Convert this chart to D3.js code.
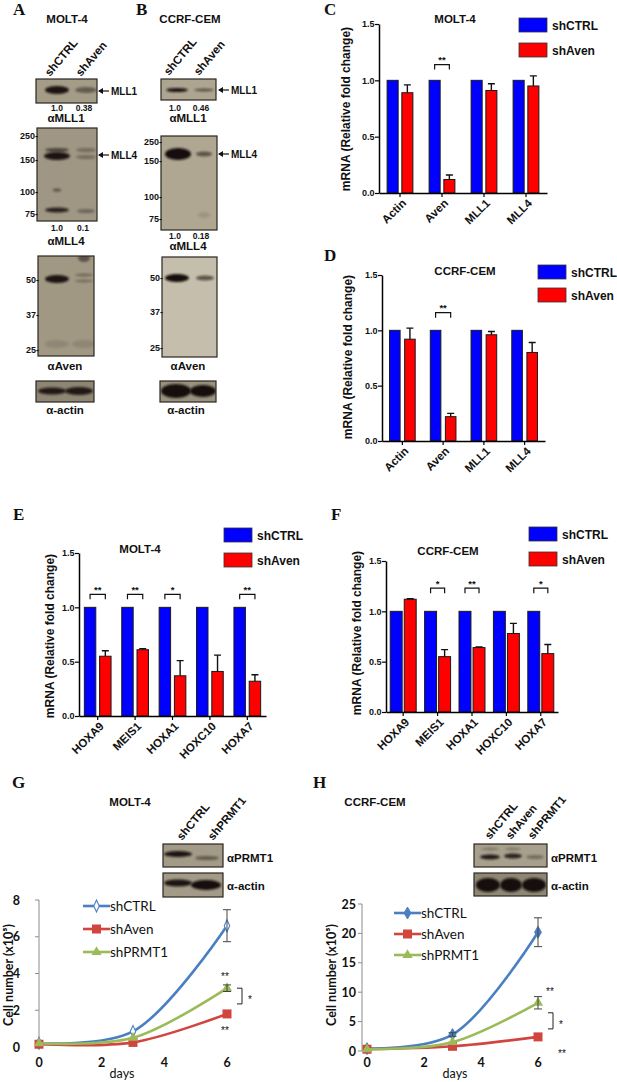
<!DOCTYPE html>
<html>
<head>
<meta charset="utf-8">
<script src="https://cdn.jsdelivr.net/npm/d3@7"></script>
<style>
  body { margin: 0; background: #fff; }
  svg { display: block; }
  text { font-family: "Liberation Sans", Arial, sans-serif; fill: #111; }
</style>
</head>
<body>
<div id="fig"></div>
<script>
// ---- qPCR data (panels C-F) ----
const geneCats = ["Actin", "Aven", "MLL1", "MLL4"];
const molt4Ctrl = [1, 1, 1, 1];
const molt4Aven = [0.89, 0.12, 0.91, 0.95];
const molt4AvenErr = [0.07, 0.04, 0.06, 0.09];
const molt4Sig = ["", "**", "", ""];

const cemCtrl = [1, 1, 1, 1];
const cemAven = [0.92, 0.22, 0.96, 0.80];
const cemAvenErr = [0.10, 0.03, 0.03, 0.09];
const cemSig = ["", "**", "", ""];

const hoxCats = ["HOXA9", "MEIS1", "HOXA1", "HOXC10", "HOXA7"];
const molt4HoxCtrl = [1, 1, 1, 1, 1];
const molt4HoxAven = [0.55, 0.61, 0.37, 0.41, 0.32];
const molt4HoxErr = [0.05, 0.01, 0.14, 0.15, 0.06];
const molt4HoxSig = ["**", "**", "*", "", "**"];

const cemHoxCtrl = [1, 1, 1, 1, 1];
const cemHoxAven = [1.12, 0.55, 0.64, 0.78, 0.58];
const cemHoxErr = [0.005, 0.07, 0.005, 0.10, 0.09];
const cemHoxSig = ["", "*", "**", "", "*"];

const barTicks = [0, 0.5, 1.0, 1.5];

// ---- growth curves (panels G-H) ----
const days = [0, 3, 6];
const dayTicks = [0, 2, 4, 6];
const molt4ShCtrl = [0.2, 0.85, 6.6];
const molt4ShCtrlErr = [0, 0.05, 0.87];
const molt4ShAven = [0.15, 0.25, 1.8];
const molt4ShAvenErr = [0, 0, 0];
const molt4ShPrmt1 = [0.2, 0.5, 3.2];
const molt4ShPrmt1Err = [0, 0, 0.18];
const molt4CellTicks = [0, 2, 4, 6, 8];

const cemShCtrl = [0.4, 2.8, 20.2];
const cemShCtrlErr = [0, 0.3, 2.45];
const cemShAven = [0.3, 0.8, 2.4];
const cemShAvenErr = [0, 0, 0];
const cemShPrmt1 = [0.3, 1.5, 8.2];
const cemShPrmt1Err = [0, 0, 1.05];
const cemCellTicks = [0, 5, 10, 15, 20, 25];

// ---- western blot quantification / ladders ----
const mll1QuantA = ["1.0", "0.38"];
const mll4QuantA = ["1.0", "0.1"];
const mll1QuantB = ["1.0", "0.46"];
const mll4QuantB = ["1.0", "0.18"];
const ladderHigh = [250, 150, 100, 75];
const ladderLow = [50, 37, 25];

const W = 617, H = 1082;
const svg = d3.select("#fig").append("svg").attr("width", W).attr("height", H);
const defs = svg.append("defs");
defs.append("filter").attr("id", "blur")
    .attr("x", "-50%").attr("y", "-100%").attr("width", "200%").attr("height", "300%")
    .append("feGaussianBlur").attr("stdDeviation", 1.3);

const serif = "'Liberation Serif', 'Times New Roman', serif";
const lato = "Lato, 'Open Sans', sans-serif";

function panelLetter(t, x, y) {
    svg.append("text").attr("x", x).attr("y", y).text(t)
        .style("font-family", serif).style("font-weight", "bold").style("font-size", "17px");
}
function boldText(t, x, y, size, anchor) {
    return svg.append("text").attr("x", x).attr("y", y).text(t)
        .attr("text-anchor", anchor || "middle")
        .style("font-weight", "bold").style("font-size", size + "px");
}

// ---------- blots ----------
let clipId = 0;
function drawBlot(b) {
    const id = "clip" + (clipId++);
    defs.append("clipPath").attr("id", id)
        .append("rect").attr("x", b.x).attr("y", b.y).attr("width", b.w).attr("height", b.h);
    const g = svg.append("g");
    g.append("rect").attr("x", b.x).attr("y", b.y).attr("width", b.w).attr("height", b.h)
        .attr("fill", b.bg);
    g.append("g").attr("clip-path", `url(#${id})`)
        .selectAll("ellipse").data(b.bands).enter().append("ellipse")
        .attr("cx", d => b.x + b.lanes[d.l])
        .attr("cy", d => b.y + d.dy)
        .attr("rx", d => d.rx).attr("ry", d => d.ry)
        .attr("fill", "#15110c").attr("opacity", d => d.a)
        .attr("filter", "url(#blur)");
    g.append("rect").attr("x", b.x).attr("y", b.y).attr("width", b.w).attr("height", b.h)
        .attr("fill", "none").attr("stroke", "#2a2620").attr("stroke-width", 1.2);
}
function ladder(values, scale, x) {
    svg.append("g").selectAll("text").data(values).enter().append("text")
        .attr("x", x).attr("y", d => scale(d) + 3.5)
        .attr("text-anchor", "end")
        .style("font-weight", "bold").style("font-size", "9px")
        .text(d => d + "-");
}
function arrowLabel(t, x, y) {
    svg.append("path").attr("d", `M${x + 11},${y} H${x + 1}`).attr("stroke", "#111").attr("stroke-width", 1.2);
    svg.append("path").attr("d", `M${x},${y} l5,-3 v6 z`).attr("fill", "#111");
    boldText(t, x + 13, y + 3.5, 10, "start");
}
function laneLabels(names, xs, y, size) {
    names.forEach((n, i) => {
        svg.append("text").attr("transform", `translate(${xs[i]},${y}) rotate(-50)`)
            .style("font-weight", "bold").style("font-size", size + "px").text(n);
    });
}
function quant(vals, xs, y) {
    vals.forEach((v, i) => boldText(v, xs[i], y, 8.5));
}

// Panel A
panelLetter("A", 13, 15);
boldText("MOLT-4", 67, 23, 11.5);
laneLabels(["shCTRL", "shAven"], [50, 81], 77, 11.5);
drawBlot({ x: 36, y: 79, w: 61, h: 24, bg: "#a59c88", lanes: [21, 50],
    bands: [{ l: 0, dy: 11, rx: 12, ry: 4, a: 0.95 }, { l: 1, dy: 11, rx: 11, ry: 3, a: 0.45 }] });
arrowLabel("MLL1", 98, 91);
quant(mll1QuantA, [57, 84], 111);
boldText("\u03b1MLL1", 66, 122, 11.5);
drawBlot({ x: 37, y: 128, w: 60, h: 93, bg: "#9f9683", lanes: [20, 49],
    bands: [{ l: 0, dy: 22, rx: 12, ry: 2, a: 0.6 }, { l: 0, dy: 28, rx: 13, ry: 4, a: 0.95 },
            { l: 0, dy: 62, rx: 4, ry: 1.5, a: 0.5 }, { l: 0, dy: 82, rx: 12, ry: 2.5, a: 0.85 },
            { l: 1, dy: 22, rx: 10, ry: 2, a: 0.3 }, { l: 1, dy: 29, rx: 10, ry: 2, a: 0.3 },
            { l: 1, dy: 83, rx: 9, ry: 2, a: 0.35 }] });
ladder(ladderHigh, d3.scaleLinear().domain(ladderHigh).range([135, 159, 191, 213]), 38);
arrowLabel("MLL4", 98, 155);
quant(mll4QuantA, [57, 83], 231);
boldText("\u03b1MLL4", 66, 245, 11.5);
drawBlot({ x: 38, y: 256, w: 56, h: 100, bg: "#a19884", lanes: [19, 46],
    bands: [{ l: 0, dy: 23, rx: 12, ry: 4, a: 0.95 }, { l: 1, dy: 19, rx: 9, ry: 1.5, a: 0.35 },
            { l: 1, dy: 25, rx: 9, ry: 1.5, a: 0.3 }, { l: 0, dy: 88, rx: 12, ry: 4, a: 0.12 },
            { l: 1, dy: 88, rx: 12, ry: 4, a: 0.12 }, { l: 1, dy: 2, rx: 6, ry: 4, a: 0.5 }] });
ladder(ladderLow, d3.scaleLinear().domain(ladderLow).range([279, 314, 349]), 39);
boldText("\u03b1Aven", 65, 370, 11.5);
drawBlot({ x: 36, y: 381, w: 58, h: 21, bg: "#8e8673", lanes: [16, 43],
    bands: [{ l: 0, dy: 10, rx: 14, ry: 3.5, a: 0.9 }, { l: 1, dy: 10, rx: 14, ry: 4, a: 0.9 }] });
boldText("\u03b1-actin", 65, 414, 11.5);

// Panel B
panelLetter("B", 136, 15);
boldText("CCRF-CEM", 190, 23, 11.5);
laneLabels(["shCTRL", "shAven"], [169, 199], 76, 11.5);
drawBlot({ x: 161, y: 79, w: 55, h: 21, bg: "#aea590", lanes: [16, 43],
    bands: [{ l: 0, dy: 11, rx: 11, ry: 2, a: 0.95 }, { l: 1, dy: 11, rx: 10, ry: 1.5, a: 0.55 }] });
arrowLabel("MLL1", 218, 90);
quant(mll1QuantB, [175, 201], 111);
boldText("\u03b1MLL1", 188, 122, 11.5);
drawBlot({ x: 161, y: 136, w: 56, h: 94, bg: "#b0a792", lanes: [17, 43],
    bands: [{ l: 0, dy: 18, rx: 13, ry: 6, a: 1 }, { l: 1, dy: 18, rx: 8, ry: 2.5, a: 0.55 },
            { l: 1, dy: 79, rx: 6, ry: 3, a: 0.12 }] });
ladder(ladderHigh, d3.scaleLinear().domain(ladderHigh).range([141, 160, 196, 218]), 162);
arrowLabel("MLL4", 218, 154);
quant(mll4QuantB, [175, 201], 239);
boldText("\u03b1MLL4", 188, 250, 11.5);
drawBlot({ x: 162, y: 257, w: 55, h: 100, bg: "#c6beac", lanes: [15, 43],
    bands: [{ l: 0, dy: 21, rx: 12, ry: 4, a: 1 }, { l: 1, dy: 21, rx: 9, ry: 2.5, a: 0.6 }] });
ladder(ladderLow, d3.scaleLinear().domain(ladderLow).range([277, 311, 347]), 163);
boldText("\u03b1Aven", 188, 370, 11.5);
drawBlot({ x: 160, y: 381, w: 56, h: 21, bg: "#9a927f", lanes: [16, 43],
    bands: [{ l: 0, dy: 10, rx: 15, ry: 7, a: 1 }, { l: 1, dy: 10, rx: 13, ry: 6, a: 1 }] });
boldText("\u03b1-actin", 186, 414, 11.5);

// ---------- bar panels ----------
function drawBarPanel(c) {
    const y = d3.scaleLinear().domain([0, 1.5]).range([c.y0, c.y15]);
    const x = d3.scaleBand().domain(c.cats).range([c.ax, c.axEnd]);
    const xs = d3.scaleBand().domain(["ctrl", "aven"]).range([0, x.bandwidth()])
        .paddingInner(c.pi).paddingOuter(c.po);
    const g = svg.append("g");

    const rows = c.cats.map((k, i) => ({ k, ctrl: c.ctrl[i], aven: c.aven[i], err: c.err[i], sig: c.sig[i] }));

    g.selectAll(".bc").data(rows).enter().append("rect")
        .attr("x", d => x(d.k) + xs("ctrl")).attr("width", xs.bandwidth())
        .attr("y", d => y(d.ctrl)).attr("height", d => y(0) - y(d.ctrl))
        .attr("fill", "#0000ff").attr("stroke", "#1a1a1a").attr("stroke-width", 1);
    g.selectAll(".ba").data(rows).enter().append("rect")
        .attr("x", d => x(d.k) + xs("aven")).attr("width", xs.bandwidth())
        .attr("y", d => y(d.aven)).attr("height", d => y(0) - y(d.aven))
        .attr("fill", "#ff0000").attr("stroke", "#1a1a1a").attr("stroke-width", 1);

    // one-sided error bars
    const ecx = d => x(d.k) + xs("aven") + xs.bandwidth() / 2;
    g.selectAll(".ev").data(rows).enter().append("path")
        .attr("d", d => `M${ecx(d)},${y(d.aven)} V${y(d.aven + d.err)} M${ecx(d) - 3.5},${y(d.aven + d.err)} H${ecx(d) + 3.5}`)
        .attr("stroke", "#111").attr("stroke-width", 1.4).attr("fill", "none");

    // significance brackets
    const sigRows = rows.filter(d => d.sig);
    const bx0 = d => x(d.k) + xs("ctrl") + xs.bandwidth() / 2;
    g.selectAll(".sb").data(sigRows).enter().append("path")
        .attr("d", d => `M${bx0(d)},${y(c.bracket) + 5} V${y(c.bracket)} H${ecx(d)} V${y(c.bracket) + 5}`)
        .attr("stroke", "#111").attr("stroke-width", 1.2).attr("fill", "none");
    g.selectAll(".st").data(sigRows).enter().append("text")
        .attr("x", d => (bx0(d) + ecx(d)) / 2).attr("y", y(c.bracket) - 1.5)
        .attr("text-anchor", "middle").style("font-weight", "bold").style("font-size", "9.5px")
        .text(d => d.sig);

    // axes
    const ya = g.append("g").attr("transform", `translate(${c.ax},0)`)
        .call(d3.axisLeft(y).tickValues(barTicks).tickFormat(d3.format(".1f")).tickSize(4).tickSizeOuter(0));
    ya.select(".domain").attr("stroke-width", 1.5);
    ya.selectAll("line").attr("stroke-width", 1.2);
    ya.selectAll("text").style("font-weight", "bold").style("font-size", "9px")
        .style("font-family", "'Liberation Sans Narrow', 'Liberation Sans', Arial").attr("x", -4.5);

    const xa = g.append("g").attr("transform", `translate(0,${c.y0})`)
        .call(d3.axisBottom(x).tickSize(4).tickSizeOuter(0));
    xa.select(".domain").attr("stroke-width", 1.5);
    xa.selectAll("line").attr("stroke-width", 1.2);
    xa.selectAll("text")
        .attr("x", 0).attr("y", 0).attr("dy", "0.35em")
        .attr("transform", "translate(4,8) rotate(-45)")
        .style("text-anchor", "end").style("font-weight", "bold").style("font-size", "11.5px");

    // title, y label
    boldText(c.title, c.titleX, c.titleY, 11.5);
    svg.append("text").attr("transform", `translate(${c.labX},${c.labY}) rotate(-90)`)
        .attr("text-anchor", "middle").style("font-weight", "bold").style("font-size", "12px")
        .text("mRNA (Relative fold change)");

    // legend
    const leg = [{ n: "shCTRL", f: "#0000ff" }, { n: "shAven", f: "#ff0000" }];
    const lg = svg.append("g").selectAll("g").data(leg).enter().append("g")
        .attr("transform", (d, i) => `translate(${c.legX},${c.legY + i * c.legGap})`);
    lg.append("rect").attr("width", 28).attr("height", 14).attr("fill", d => d.f)
        .attr("stroke", "#333").attr("stroke-width", 0.8);
    lg.append("text").attr("x", 33).attr("y", 11.5).style("font-weight", "bold").style("font-size", "12px")
        .text(d => d.n);
}

panelLetter("C", 324, 15);
drawBarPanel({ cats: geneCats, ctrl: molt4Ctrl, aven: molt4Aven, err: molt4AvenErr, sig: molt4Sig,
    ax: 379, axEnd: 547, y0: 193, y15: 24, pi: 0.25, po: 0.55, bracket: 1.14,
    title: "MOLT-4", titleX: 455, titleY: 23, labX: 350, labY: 109,
    legX: 519, legY: 18, legGap: 25 });

panelLetter("D", 324, 261);
drawBarPanel({ cats: geneCats, ctrl: cemCtrl, aven: cemAven, err: cemAvenErr, sig: cemSig,
    ax: 382, axEnd: 545, y0: 441, y15: 275, pi: 0.3, po: 0.5, bracket: 1.16,
    title: "CCRF-CEM", titleX: 465, titleY: 275, labX: 352, labY: 357,
    legX: 538, legY: 265, legGap: 23 });

panelLetter("E", 13, 520);
drawBarPanel({ cats: hoxCats, ctrl: molt4HoxCtrl, aven: molt4HoxAven, err: molt4HoxErr, sig: molt4HoxSig,
    ax: 79, axEnd: 266, y0: 716, y15: 553, pi: 0.25, po: 0.35, bracket: 1.12,
    title: "MOLT-4", titleX: 140, titleY: 553, labX: 54, labY: 636,
    legX: 224, legY: 528, legGap: 25 });

panelLetter("F", 331, 520);
drawBarPanel({ cats: hoxCats, ctrl: cemHoxCtrl, aven: cemHoxAven, err: cemHoxErr, sig: cemHoxSig,
    ax: 386, axEnd: 558, y0: 712, y15: 561, pi: 0.15, po: 0.3, bracket: 1.23,
    title: "CCRF-CEM", titleX: 448, titleY: 555, labX: 361, labY: 633,
    legX: 529, legY: 527, legGap: 25 });

// ---------- growth panels ----------
const colCtrl = "#4a7fc1", colAven = "#d0463f", colPrmt = "#9bbb59";

function marker(sel, type, color, size) {
    if (type === "diamondOpen") {
        sel.append("path").attr("d", d3.symbol(d3.symbolDiamond, size * size * 0.5)())
            .attr("transform", "scale(0.8,1)")
            .attr("fill", "#fff").attr("stroke", color).attr("stroke-width", 1.3);
    } else if (type === "diamond") {
        sel.append("path").attr("d", d3.symbol(d3.symbolDiamond, size * size * 0.5)())
            .attr("fill", color).attr("stroke", color);
    } else if (type === "square") {
        sel.append("rect").attr("x", -size / 2).attr("y", -size / 2).attr("width", size).attr("height", size)
            .attr("fill", color);
    } else {
        sel.append("path").attr("d", d3.symbol(d3.symbolTriangle, size * size * 0.55)())
            .attr("fill", color);
    }
}

function drawGrowth(c) {
    const x = d3.scaleLinear().domain([0, 6]).range(c.xr);
    const y = d3.scaleLinear().domain([0, c.ymax]).range(c.yr);
    const g = svg.append("g");

    // y axis
    g.append("path").attr("d", `M${c.axisX},${y(0)} V${y(c.ymax)}`).attr("stroke", "#8c8c8c").attr("stroke-width", 1);
    g.selectAll(".yt").data(c.yTicks).enter().append("path")
        .attr("d", d => `M${c.axisX - 4},${y(d)} H${c.axisX}`).attr("stroke", "#8c8c8c");
    g.selectAll(".yl").data(c.yTicks).enter().append("text")
        .attr("x", c.yLabX).attr("y", d => y(d) + 4.5).attr("text-anchor", "end")
        .style("font-family", lato).style("font-weight", "bold").style("font-size", "12.5px")
        .text(d => d);
    g.selectAll(".xl").data(dayTicks).enter().append("text")
        .attr("x", d => x(d)).attr("y", 1067).attr("text-anchor", "middle")
        .style("font-family", lato).style("font-weight", "bold").style("font-size", "12.5px")
        .text(d => d);
    g.append("text").attr("x", c.daysX).attr("y", 1078).attr("text-anchor", "middle")
        .style("font-family", lato).style("font-size", "12.5px").text("days");
    g.append("text").attr("transform", `translate(${c.cellLabX},975) rotate(-90)`)
        .attr("text-anchor", "middle")
        .style("font-family", lato).style("font-weight", "bold").style("font-size", "12.5px")
        .text("Cell number (x10\u2075)");

    const line = d3.line().x((d, i) => x(days[i])).y(d => y(d)).curve(d3.curveCatmullRom.alpha(0.5));

    c.series.forEach(s => {
        g.append("path").attr("d", line(s.v)).attr("fill", "none")
            .attr("stroke", s.col).attr("stroke-width", 2.6);
        const pts = g.append("g").selectAll("g").data(s.v).enter().append("g")
            .attr("transform", (d, i) => `translate(${x(days[i])},${y(d)})`);
        marker(pts, s.m, s.col, 9);
        g.selectAll(null).data(s.v.map((d, i) => ({ d, e: s.e[i], t: days[i] })).filter(p => p.e > 0.1))
            .enter().append("path")
            .attr("d", p => `M${x(p.t)},${y(p.d - p.e)} V${y(p.d + p.e)} M${x(p.t) - 4},${y(p.d - p.e)} H${x(p.t) + 4} M${x(p.t) - 4},${y(p.d + p.e)} H${x(p.t) + 4}`)
            .attr("stroke", "#444").attr("stroke-width", 1).attr("fill", "none");
    });

    // legend
    const lg = svg.append("g").selectAll("g").data(c.series).enter().append("g")
        .attr("transform", (d, i) => `translate(${c.legX},${c.legY[i]})`);
    lg.append("path").attr("d", "M0,0 H27").attr("stroke", d => d.col).attr("stroke-width", 2.6);
    lg.each(function (d) { marker(d3.select(this).append("g").attr("transform", "translate(13.5,0)"), d.m, d.col, 9); });
    lg.append("text").attr("x", 27).attr("y", 4.5)
        .style("font-family", lato).style("font-size", "13.5px").text(d => d.n);

    // significance
    const last = days.length - 1;
    const prmt = c.series[2].v[last], aven = c.series[1].v[last];
    const sx = x(6);
    g.append("text").attr("x", sx + c.sigDx).attr("y", y(prmt) - 8).attr("text-anchor", "middle")
        .style("font-size", "10px").text("**");
    g.append("text").attr("x", sx + c.sigDx + c.lowDx).attr("y", y(aven) + 20).attr("text-anchor", "middle")
        .style("font-size", "10px").text("**");
    const b0 = y(prmt) + c.brTop, b1 = y(aven) - c.brBot;
    g.append("path").attr("d", `M${sx + c.brX - 5},${b0} H${sx + c.brX} V${b1} H${sx + c.brX - 5}`)
        .attr("stroke", "#222").attr("stroke-width", 1).attr("fill", "none");
    g.append("text").attr("x", sx + c.brX + 8).attr("y", (b0 + b1) / 2 + 7).attr("text-anchor", "middle")
        .style("font-size", "10px").text("*");
}

panelLetter("G", 12, 788);
boldText("MOLT-4", 130, 806, 11.5);
laneLabels(["shCTRL", "shPRMT1"], [182, 213], 841, 11.5);
drawBlot({ x: 163, y: 844, w: 60, h: 23, bg: "#a39a87", lanes: [15, 44],
    bands: [{ l: 0, dy: 10, rx: 14, ry: 3, a: 0.95 }, { l: 1, dy: 14, rx: 12, ry: 2, a: 0.45 }] });
boldText("\u03b1PRMT1", 227, 862, 11.5, "start");
drawBlot({ x: 163, y: 873, w: 60, h: 24, bg: "#a39a87", lanes: [15, 43],
    bands: [{ l: 0, dy: 10, rx: 14, ry: 3.5, a: 0.95 }, { l: 1, dy: 12, rx: 15, ry: 5, a: 1 }] });
boldText("\u03b1-actin", 227, 890, 11.5, "start");
drawGrowth({ xr: [39, 227], yr: [1047, 900], ymax: 8, yTicks: molt4CellTicks, axisX: 39, yLabX: 20,
    daysX: 122, cellLabX: 13, legX: 83, legY: [906, 929, 952], sigDx: -2, lowDx: 0,
    brX: 15, brTop: 0, brBot: 10,
    series: [
        { n: "shCTRL", v: molt4ShCtrl, e: molt4ShCtrlErr, col: colCtrl, m: "diamondOpen" },
        { n: "shAven", v: molt4ShAven, e: molt4ShAvenErr, col: colAven, m: "square" },
        { n: "shPRMT1", v: molt4ShPrmt1, e: molt4ShPrmt1Err, col: colPrmt, m: "triangle" }] });

panelLetter("H", 313, 788);
boldText("CCRF-CEM", 375, 806, 11.5);
laneLabels(["shCTRL", "shAven", "shPRMT1"], [490, 511, 533], 840, 11.5);
drawBlot({ x: 474, y: 844, w: 73, h: 23, bg: "#a8a08c", lanes: [16, 39, 61],
    bands: [{ l: 0, dy: 13, rx: 10, ry: 2.5, a: 0.9 }, { l: 1, dy: 12, rx: 9, ry: 2.5, a: 0.85 },
            { l: 2, dy: 13, rx: 9, ry: 2, a: 0.35 }, { l: 0, dy: 5, rx: 9, ry: 1.5, a: 0.25 },
            { l: 1, dy: 5, rx: 8, ry: 1.5, a: 0.25 }] });
boldText("\u03b1PRMT1", 551, 862, 11.5, "start");
drawBlot({ x: 474, y: 873, w: 73, h: 23, bg: "#8f8774", lanes: [14, 37, 60],
    bands: [{ l: 0, dy: 12, rx: 12, ry: 7, a: 1 }, { l: 1, dy: 12, rx: 11, ry: 7, a: 1 },
            { l: 2, dy: 12, rx: 12, ry: 7, a: 1 }] });
boldText("\u03b1-actin", 551, 890, 11.5, "start");
drawGrowth({ xr: [367, 538], yr: [1051, 904], ymax: 25, yTicks: cemCellTicks, axisX: 362, yLabX: 356,
    daysX: 455, cellLabX: 336, legX: 394, legY: [913, 934, 955], sigDx: 12, lowDx: 12,
    brX: 15, brTop: 10, brBot: 8,
    series: [
        { n: "shCTRL", v: cemShCtrl, e: cemShCtrlErr, col: colCtrl, m: "diamond" },
        { n: "shAven", v: cemShAven, e: cemShAvenErr, col: colAven, m: "square" },
        { n: "shPRMT1", v: cemShPrmt1, e: cemShPrmt1Err, col: colPrmt, m: "triangle" }] });
</script>
</body>
</html>
